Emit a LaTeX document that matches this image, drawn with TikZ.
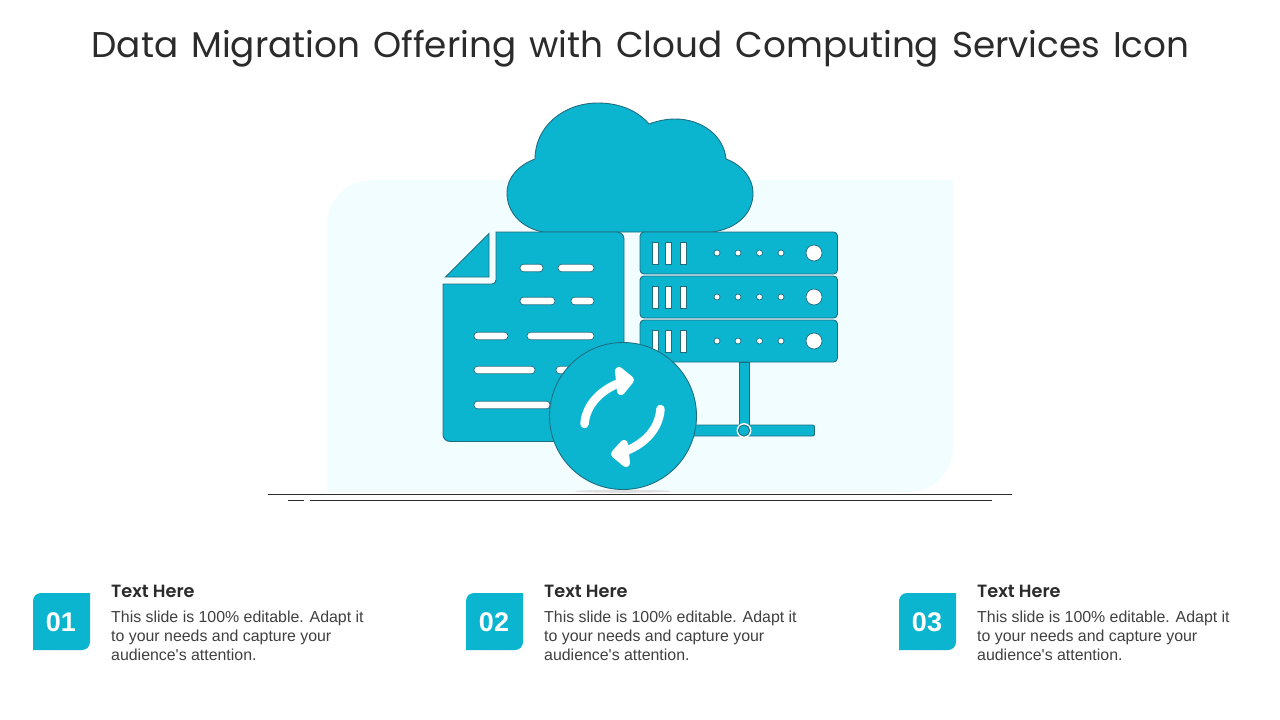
\documentclass[tikz,border=0pt]{standalone}
\usepackage{fontspec}
\setmainfont{Liberation Sans}
\newfontfamily\bodyfont{Liberation Sans}
\newfontfamily\gothic[WordSpace=1.35]{Poppins}
\newfontfamily\gothicsb{Poppins SemiBold}
\definecolor{tealc}{HTML}{0BB5D0}
\definecolor{edgec}{HTML}{1F6E80}
\definecolor{pale}{HTML}{F2FDFF}
\definecolor{ink}{HTML}{2B2B2B}
\definecolor{bodyc}{HTML}{404040}
\tikzset{
  solid shape/.style={fill=tealc,draw=edgec,line width=0.9pt},
  barshape/.style={draw=edgec,fill=white,line width=0.7pt,rounded corners=3.5pt},
  slotshape/.style={draw=edgec,fill=white,line width=0.7pt},
  groundline/.style={draw=ink,line width=0.9pt},
  arrowline/.style={draw=white,line width=8.5pt,line cap=round,line join=round},
  badgetext/.style={text=white,font=\fontsize{27}{27}\selectfont\bfseries,anchor=center,inner sep=0pt},
  headtext/.style={text=ink,font=\gothicsb\fontsize{17.7}{20}\selectfont,anchor=base west,inner sep=0pt},
  bodytext/.style={text=bodyc,font=\bodyfont\fontsize{15.9}{19}\selectfont,anchor=base west,inner sep=0pt},
}
\newcommand{\srv}[1]{%
  \draw[solid shape,rounded corners=4pt] (640,#1) rectangle (837.5,#1+42);
  \foreach \sx in {652,665.5,680}{\draw[slotshape] (\sx,#1+10.5) rectangle (\sx+6,#1+32);}
  \foreach \dx in {717,738,759.5,781}{\draw[slotshape] (\dx,#1+21) circle (3);}
  \draw[slotshape] (814,#1+21) circle (8);
}
\newcommand{\pbar}[3]{\draw[barshape] (#1,#3-3.8) rectangle (#2,#3+3.8);}
\begin{document}
\begin{tikzpicture}[x=1pt,y=-1pt]
\useasboundingbox (0,0) rectangle (1280,720);
\fill[white] (0,0) rectangle (1280,720);
\node[text=ink,font=\gothic\fontsize{35.8}{40}\selectfont,anchor=center,inner sep=0pt] (title) at (640.5,48.5) {Data Migration Offering with Cloud Computing Services Icon};
% pale panel
\fill[pale] (372,180) -- (953,180) -- (953,447) .. controls (953,472) and (933,492) .. (908,492) -- (327,492) -- (327,225) .. controls (327,200) and (347,180) .. (372,180) -- cycle;
% cloud
\draw[solid shape] (543,232) .. controls (522,228) and (507,213) .. (507,193) .. controls (507,177) and (519,165) .. (535,159) .. controls (535,127) and (563,103) .. (598,103) .. controls (620,103) and (638,111) .. (649,124) .. controls (657,121) and (666,119) .. (675,119) .. controls (702,119) and (724,136) .. (726,159) .. controls (742,165) and (753,178) .. (753,193) .. controls (753,213) and (738,228) .. (713,232) -- cycle;
% document
\draw[solid shape] (496,232) [rounded corners=7pt] -- (624,232) -- (624,441.5) -- (443,441.5) [sharp corners] -- (443,284) [rounded corners=4pt] -- (496,284) [sharp corners] -- cycle;
\draw[solid shape,line join=miter] (489,233.5) -- (489,277) -- (445.5,277) -- cycle;
\pbar{520}{543}{268}\pbar{558}{594}{268}
\pbar{520}{555}{301}\pbar{571}{594}{301}
\pbar{474}{508}{336}\pbar{527}{594}{336}
\pbar{474}{535}{370}\pbar{556}{590}{370}
\pbar{474}{550}{405}
% servers
\srv{232}\srv{276}\srv{320}
% network stem
\draw[solid shape] (739.5,362) rectangle (749,426);
\draw[solid shape,rounded corners=2pt] (680,425) rectangle (814.5,436);
\draw[fill=tealc,draw=white,line width=1.6pt] (744,430.5) circle (6.6);
\draw[edgec,line width=0.9pt] (744,430.5) circle (5.6);
% shadow under circle
\fill[black!12] (623,491.3) ellipse (48 and 1.5);
% sync circle
\draw[solid shape] (623,416) circle (73.5);
\draw[arrowline] (584.5,424) .. controls (586,404) and (602,388) .. (625,381);
\fill[white,draw=white,line width=8pt,line join=round] (619,371) -- (630,380) -- (621,391) -- cycle;
\draw[arrowline] (660.5,409) .. controls (659,430) and (643,446) .. (620,453);
\fill[white,draw=white,line width=8pt,line join=round] (626,463) -- (615,454) -- (624,444) -- cycle;
% ground lines
\draw[groundline] (268,494) -- (1012,494);
\draw[groundline] (288,500) -- (304,500);
\draw[groundline] (310,500) -- (992,500);
% items
\foreach \bx/\tx/\num in {33/111/01,466/544/02,899/977/03}{
  \fill[tealc] (\bx,601) [rounded corners=8pt] -- (\bx,593) [sharp corners] -- (\bx+57,593) -- (\bx+57,642) [rounded corners=8pt] -- (\bx+57,650) [sharp corners] -- (\bx,650) -- cycle;
  \node[badgetext] (b\num) at (\bx+28,622) {\num};
  \node[headtext] (h\num) at (\tx,597) {Text Here};
  \node[bodytext] (la\num) at (\tx,622) {This slide is 100\% editable. Adapt it};
  \node[bodytext] (lb\num) at (\tx,641) {to your needs and capture your};
  \node[bodytext] (lc\num) at (\tx,660) {audience's attention.};
}
\end{tikzpicture}
\end{document}
